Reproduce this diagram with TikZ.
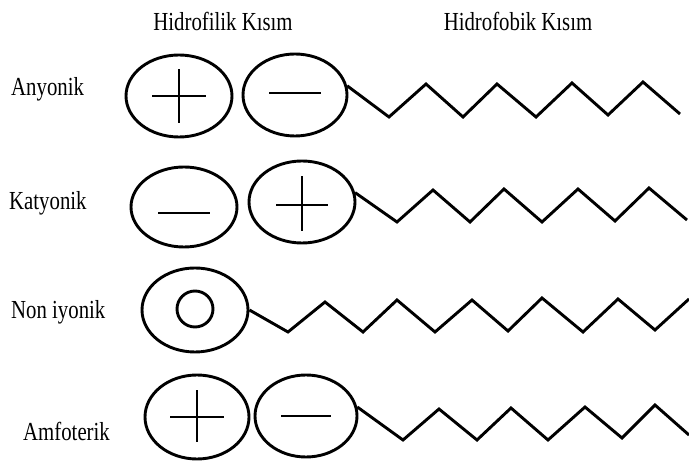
\documentclass[tikz,border=0pt]{standalone}
\usepackage{fontspec}
\setmainfont{Liberation Serif}[FakeStretch=0.8]
\usetikzlibrary{shapes.geometric}
\begin{document}
\begin{tikzpicture}[x=1pt,y=-1pt,
  lw/.style={line width=2.9pt, line join=miter, line cap=butt},
  head/.style={font=\fontsize{26}{28}\selectfont, anchor=base, inner sep=0pt},
  lab/.style={font=\fontsize{26}{28}\selectfont, anchor=base west, inner sep=0pt},
  blob/.style={ellipse, draw, lw, inner sep=0pt, minimum width=#1},
  blob/.default=106pt]
\useasboundingbox[fill=white] (0,0) rectangle (689,462);
% headings
\node[head] (h1) at (223,31) {Hidrofilik Kısım};
\node[head] (h2) at (518,31) {Hidrofobik Kısım};
% labels
\node[lab] (l1) at (11,96) {Anyonik};
\node[lab] (l2) at (9,210) {Katyonik};
\node[lab] (l3) at (11,319) {Non iyonik};
\node[lab] (l4) at (23,441) {Amfoterik};
% row 1
\node[blob, minimum height=82pt] (e1) at (179,96) {};
\node[blob=104pt, minimum height=82pt] (e2) at (295,95) {};
\draw[lw] ([xshift=-27pt]e1.center) -- ([xshift=27pt]e1.center);
\draw[lw] ([yshift=-27pt]e1.center) -- ([yshift=27pt]e1.center);
\draw[lw] ([xshift=-26pt,yshift=2pt]e2.center) -- ([xshift=26pt,yshift=2pt]e2.center);
\draw[lw] (e2.10) -- (389,117) -- (426,84) -- (463,117) -- (497,84) -- (536,117) -- (572,83) -- (608,115) -- (643,82) -- (680,114);
% row 2
\node[blob, minimum height=80pt] (e3) at (184,207) {};
\node[blob, minimum height=82pt] (e4) at (302,202) {};
\draw[lw] ([xshift=-26pt,yshift=-6pt]e3.center) -- ([xshift=26pt,yshift=-6pt]e3.center);
\draw[lw] ([xshift=-26pt,yshift=-3pt]e4.center) -- ([xshift=26pt,yshift=-3pt]e4.center);
\draw[lw] ([yshift=-29pt]e4.center) -- ([yshift=26pt]e4.center);
\draw[lw] (e4.10) -- (397,222) -- (433,190) -- (470,222) -- (504,189) -- (542,222) -- (578,189) -- (615,221) -- (649,188) -- (687,220);
% row 3
\node[blob, minimum height=84pt] (e5) at (195,310) {};
\node[circle, draw, lw, inner sep=0pt, minimum size=36pt] (c5) at (195,309) {};
\draw[lw] (e5.east) -- (288,332) -- (325,302) -- (363,332) -- (397,300) -- (435,332) -- (472,300) -- (508,331) -- (542,298) -- (583,332) -- (618,299) -- (655,330) -- (689,299);
% row 4
\node[blob=104pt, minimum height=84pt] (e6) at (197,417) {};
\node[blob=102pt, minimum height=82pt] (e7) at (306,416) {};
\draw[lw] ([xshift=-27pt]e6.center) -- ([xshift=27pt]e6.center);
\draw[lw] ([yshift=-25pt]e6.center) -- ([yshift=27pt]e6.center);
\draw[lw] ([xshift=-25pt]e7.center) -- ([xshift=25pt]e7.center);
\draw[lw] (e7.10) -- (403,440) -- (439,409) -- (477,440) -- (511,408) -- (548,440) -- (585,407) -- (622,438) -- (655,405) -- (689,435);
\end{tikzpicture}
\end{document}
